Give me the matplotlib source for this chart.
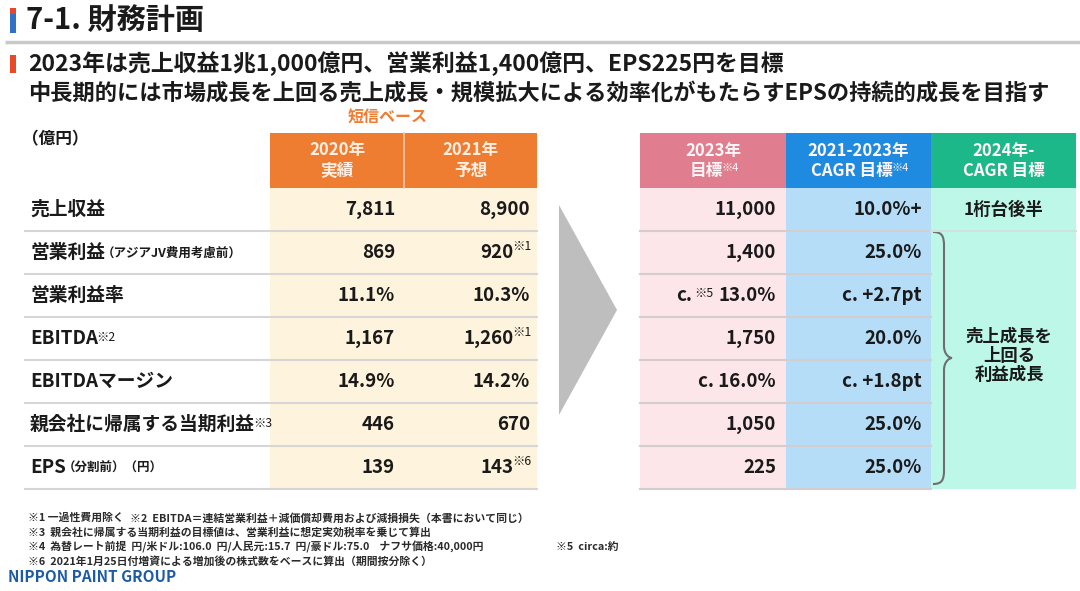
import matplotlib
matplotlib.use("Agg")
import matplotlib.pyplot as plt
from matplotlib.patches import Rectangle, Polygon, PathPatch
from matplotlib.path import Path

plt.rcParams['font.family'] = ['Noto Sans CJK JP', 'DejaVu Sans']

# ---------------- data ----------------
title = "7-1. 財務計画"
subtitle_lines = [
    "2023年は売上収益1兆1,000億円、営業利益1,400億円、EPS225円を目標",
    "中長期的には市場成長を上回る売上成長・規模拡大による効率化がもたらすEPSの持続的成長を目指す",
]
unit_label = "（億円）"
short_basis_label = "短信ベース"
left_headers = ["2020年\n実績", "2021年\n予想"]
right_header_top = ["2023年", "2021-2023年", "2024年-"]
right_header_bottom = ["目標", "CAGR 目標", "CAGR 目標"]
right_header_notes = ["※4", "※4", ""]

row_labels = ["売上収益", "営業利益", "営業利益率", "EBITDA", "EBITDAマージン",
              "親会社に帰属する当期利益", "EPS"]
row_label_small = ["", "（アジアJV費用考慮前）", "", "", "", "", "（分割前）（円）"]
row_label_notes = ["", "", "", "※2", "", "※3", ""]

actual_2020 = ["7,811", "869", "11.1%", "1,167", "14.9%", "446", "139"]
forecast_2021 = ["8,900", "920", "10.3%", "1,260", "14.2%", "670", "143"]
forecast_2021_notes = ["", "※1", "", "※1", "", "", "※6"]

target_2023 = ["11,000", "1,400", "13.0%", "1,750", "c. 16.0%", "1,050", "225"]
target_2023_prefix = ["", "", "c.", "", "", "", ""]
target_2023_prefix_notes = ["", "", "※5", "", "", "", ""]

cagr_2021_2023 = ["10.0%+", "25.0%", "c. +2.7pt", "20.0%", "c. +1.8pt", "25.0%", "25.0%"]
cagr_2024_first = "1桁台後半"
cagr_2024_rest = "売上成長を\n上回る\n利益成長"

footnote_lines = [
    ("※1 一過性費用除く", "※2  EBITDA＝連結営業利益＋減価償却費用および減損損失（本書において同じ）", ""),
    ("※3  親会社に帰属する当期利益の目標値は、営業利益に想定実効税率を乗じて算出", "", ""),
    ("※4  為替レート前提  円/米ドル:106.0  円/人民元:15.7  円/豪ドル:75.0    ナフサ価格:40,000円", "", "※5  circa:約"),
    ("※6  2021年1月25日付増資による増加後の株式数をベースに算出（期間按分除く）", "", ""),
]
brand = "NIPPON PAINT GROUP"

# ---------------- layout / style ----------------
W, H = 1080, 591
TXT = "#1a1a1a"
ORANGE = "#EE7D31"
CREAM = "#FEF3DC"
PINK_H, PINK_B = "#E07D8E", "#FCE6EA"
BLUE_H, BLUE_B = "#1F8BE0", "#B6DDF7"
GREEN_H, GREEN_B = "#1CB889", "#BDF7E8"
SEP = "#D6D6D6"

L_X0 = 25
L_COLS = [270, 404, 537]
R_COLS = [640, 786, 931, 1076]
HDR_Y0, HDR_Y1 = 133, 188
ROW_H = 43
n_rows = len(row_labels)
row_top = [HDR_Y1 + i * ROW_H for i in range(n_rows + 1)]
row_mid = [HDR_Y1 + (i + 0.5) * ROW_H for i in range(n_rows)]

fig = plt.figure(figsize=(W / 100, H / 100), dpi=100)
ax = fig.add_axes([0, 0, 1, 1])
ax.set_xlim(0, W)
ax.set_ylim(H, 0)
ax.axis("off")

# ---- title area ----
ax.add_patch(Rectangle((10, 8), 6, 6, color="#E8452C", lw=0))
ax.add_patch(Rectangle((10, 14), 6, 19, color="#2F72C4", lw=0))
ax.text(26, 20, title, fontsize=21, fontweight="bold", color=TXT, va="center", ha="left")
ax.plot([5, W], [42, 42], color="#C9C9C9", lw=2.5, solid_capstyle="butt")
ax.add_patch(Rectangle((10, 55), 6, 18, color="#E84A27", lw=0))
subtitle_sizes = [16.5, 16.0]
for i, line in enumerate(subtitle_lines):
    ax.text(28, 64 + i * 29, line, fontsize=subtitle_sizes[i], fontweight="bold", color=TXT,
            va="center", ha="left")

# ---- left table ----
ax.text(388, 117, short_basis_label, fontsize=11.5, fontweight="bold",
        color=ORANGE, ha="center", va="center")
ax.text(22, 139, unit_label, fontsize=12, fontweight="bold", color=TXT, ha="left", va="center")
ax.add_patch(Rectangle((L_COLS[0], HDR_Y0), L_COLS[2] - L_COLS[0], HDR_Y1 - HDR_Y0, color=ORANGE, lw=0))
ax.add_patch(Rectangle((L_COLS[0], HDR_Y1), L_COLS[2] - L_COLS[0], row_top[-1] - HDR_Y1, color=CREAM, lw=0))
ax.plot([L_COLS[1], L_COLS[1]], [HDR_Y0, HDR_Y1], color="#F6C9A8", lw=1.2)
for j, h in enumerate(left_headers):
    ax.text((L_COLS[j] + L_COLS[j + 1]) / 2, (HDR_Y0 + HDR_Y1) / 2, h, fontsize=12, fontweight="bold",
            color="#FFEFE4", ha="center", va="center", linespacing=1.15)
for i in range(n_rows):
    ax.plot([L_X0, L_COLS[2]], [row_top[i + 1], row_top[i + 1]], color=SEP, lw=1.5)

NOTE_FS = 8.8
for i, lab in enumerate(row_labels):
    t = ax.text(30, row_mid[i], lab, fontsize=13.5, fontweight="bold", color=TXT, ha="left", va="center")
    if row_label_small[i]:
        ax.annotate(row_label_small[i], xy=(1, 0.14), xycoords=t, xytext=(-2, 0), textcoords="offset points",
                    fontsize=9, fontweight="bold", color=TXT, ha="left", va="bottom")
    if row_label_notes[i]:
        ax.annotate(row_label_notes[i], xy=(1, 0.92), xycoords=t, xytext=(-1, 0), textcoords="offset points",
                    fontsize=NOTE_FS, color=TXT, ha="left", va="top")

VAL_FS = 13.5
VAL_W = "bold"
for i in range(n_rows):
    ax.text(395, row_mid[i], actual_2020[i], fontsize=VAL_FS, fontweight=VAL_W, color=TXT,
            ha="right", va="center")
    if forecast_2021_notes[i]:
        note = ax.text(531, row_mid[i] - 6, forecast_2021_notes[i], fontsize=NOTE_FS, color=TXT,
                       ha="right", va="center")
        ax.annotate(forecast_2021[i], xy=(0, 0.5), xycoords=note, xytext=(1.5, -4.5),
                    textcoords="offset points", fontsize=VAL_FS, fontweight=VAL_W, color=TXT,
                    ha="right", va="center")
    else:
        ax.text(530, row_mid[i], forecast_2021[i], fontsize=VAL_FS, fontweight=VAL_W, color=TXT,
                ha="right", va="center")

# ---- arrow ----
ax.add_patch(Polygon([(559, 205), (617, 310), (559, 415)], closed=True, color="#BEBEBE", lw=0))

# ---- right table ----
hdr_colors = [PINK_H, BLUE_H, GREEN_H]
body_colors = [PINK_B, BLUE_B, GREEN_B]
for j in range(3):
    ax.add_patch(Rectangle((R_COLS[j], HDR_Y0), R_COLS[j + 1] - R_COLS[j], HDR_Y1 - HDR_Y0,
                           color=hdr_colors[j], lw=0))
    ax.add_patch(Rectangle((R_COLS[j], HDR_Y1), R_COLS[j + 1] - R_COLS[j], row_top[-1] - HDR_Y1,
                           color=body_colors[j], lw=0))
    cx = (R_COLS[j] + R_COLS[j + 1]) / 2
    ax.text(cx, 151, right_header_top[j], fontsize=12, fontweight="bold", color="#FFF6F8",
            ha="center", va="center")
    off = -7 if right_header_notes[j] else 0
    bt = ax.text(cx + off, 171, right_header_bottom[j], fontsize=12, fontweight="bold", color="#FFF6F8",
                 ha="center", va="center")
    if right_header_notes[j]:
        ax.annotate(right_header_notes[j], xy=(1, 0.92), xycoords=bt, xytext=(-0.5, 0),
                    textcoords="offset points", fontsize=8, color="#FFF6F8", ha="left", va="top")

for i in range(n_rows):
    ax.plot([R_COLS[0], R_COLS[2]], [row_top[i + 1], row_top[i + 1]], color="#D2CDCF", lw=1.5)
ax.plot([R_COLS[2], R_COLS[3]], [row_top[1], row_top[1]], color="#CFE3DD", lw=1.5)

for i in range(n_rows):
    v = ax.text(776, row_mid[i], target_2023[i], fontsize=VAL_FS, fontweight=VAL_W, color=TXT,
                ha="right", va="center")
    if target_2023_prefix_notes[i]:
        ax.annotate(target_2023_prefix_notes[i], xy=(0, 0.95), xycoords=v, xytext=(-4, 0),
                    textcoords="offset points", fontsize=NOTE_FS, color=TXT, ha="right", va="top")
        ax.annotate(target_2023_prefix[i], xy=(0, 0.5), xycoords=v, xytext=(-19, 0),
                    textcoords="offset points", fontsize=VAL_FS, fontweight=VAL_W, color=TXT,
                    ha="right", va="center")
    ax.text(922, row_mid[i], cagr_2021_2023[i], fontsize=VAL_FS, fontweight=VAL_W, color=TXT,
            ha="right", va="center")

gcx = (R_COLS[2] + R_COLS[3]) / 2
ax.text(gcx, row_mid[0], cagr_2024_first, fontsize=12.5, fontweight="bold", color=TXT, ha="center", va="center")
ax.text(1009, 356, cagr_2024_rest, fontsize=12.5, fontweight="bold", color=TXT, ha="center", va="center",
        linespacing=1.1)

# brace
bx0, bx1, bxt = 933, 944, 952
by0, by1 = row_top[1] + 1, row_top[-1] - 5
bym = (by0 + by1) / 2
verts = [(bx0, by0), (bx1 - 2, by0), (bx1, by0 + 4), (bx1, by0 + 14),
         (bx1, bym - 12),
         (bx1, bym - 4), (bxt - 3, bym), (bxt, bym),
         (bxt - 3, bym), (bx1, bym + 4), (bx1, bym + 12),
         (bx1, by1 - 14),
         (bx1, by1 - 4), (bx1 - 2, by1), (bx0, by1)]
codes = [Path.MOVETO, Path.CURVE4, Path.CURVE4, Path.CURVE4,
         Path.LINETO,
         Path.CURVE4, Path.CURVE4, Path.CURVE4,
         Path.CURVE4, Path.CURVE4, Path.CURVE4,
         Path.LINETO,
         Path.CURVE4, Path.CURVE4, Path.CURVE4]
ax.add_patch(PathPatch(Path(verts, codes), fill=False, edgecolor="#6E6E6E", lw=1.5))

# ---- footnotes ----
FN_FS = 7.8
for i, (a, b, c) in enumerate(footnote_lines):
    y = 518 + i * 14.5
    ax.text(28, y, a, fontsize=FN_FS, fontweight="bold", color="#2a2a2a", ha="left", va="center")
    if b:
        ax.text(130, y, b, fontsize=FN_FS, fontweight="bold", color="#2a2a2a", ha="left", va="center")
    if c:
        ax.text(556, y, c, fontsize=FN_FS, fontweight="bold", color="#2a2a2a", ha="left", va="center")

ax.text(8, 577, brand, fontsize=11, fontweight="bold", color="#1E5BA6", ha="left", va="center")

fig.savefig("out.png", dpi=100)
